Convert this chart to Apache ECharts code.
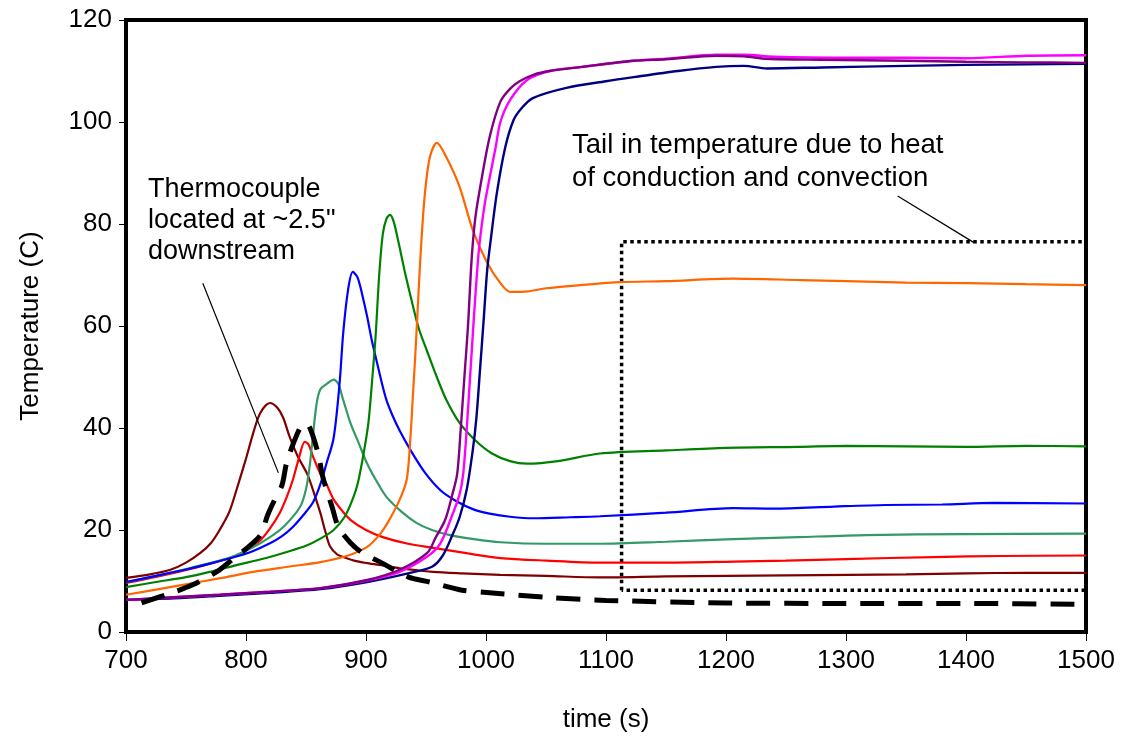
<!DOCTYPE html>
<html>
<head>
<meta charset="utf-8">
<script src="https://cdn.jsdelivr.net/npm/echarts@6/dist/echarts.min.js"></script>
<style>
html,body{margin:0;padding:0;background:#fff;}
#chart{width:1126px;height:744px;}
</style>
</head>
<body>
<div id="chart"></div>
<script>
// ---- data: [time (s), temperature (C)] ----
const maroon = [[700,10.6],[720,11.3],[737,12.2],[750,13.6],[762,15.5],[771,17.5],[778,20],[786,23.5],[792,27.8],[800,34],[806,39],[812,43],[820,44.9],[826,44],[831,42],[836,38.5],[843,34.5],[851,31],[857,27],[862,23.3],[866,19.8],[870,16.8],[876,15.2],[881,14.7],[890,14],[901,13.5],[915,13],[928,12.5],[956,11.8],[980,11.5],[1012,11.2],[1050,11],[1095,10.7],[1150,10.9],[1200,11],[1250,11.1],[1303,11.2],[1350,11.3],[1400,11.5],[1450,11.6],[1500,11.6]];
const red = [[700,9.6],[725,10.8],[751,12.2],[770,13.4],[789,14.7],[800,16],[812,18],[820,20.3],[828,23.3],[834,26.5],[839,29.8],[844,34],[849,37.3],[852,36.8],[856,34.3],[862,31],[867,29],[873,26],[880,23.8],[887,22],[900,20],[914,18.6],[935,17.3],[956,16.5],[985,15.4],[1012,14.5],[1050,14],[1095,13.6],[1150,13.6],[1206,13.8],[1250,14],[1300,14.3],[1373,14.7],[1430,14.9],[1500,15]];
const seaGreen = [[700,9.8],[725,11],[751,12.4],[770,13.5],[789,14.8],[805,16.5],[820,18.6],[832,20.8],[845,24.5],[850,28],[853,32.4],[856,39],[859,45],[862,47.6],[867,48.6],[873,49.5],[877,48.6],[881,45.5],[887,41],[894,37],[901,33],[909,29.5],[917,26.5],[930,23.5],[942,21.4],[955,20],[970,19],[990,18.2],[1012,17.6],[1050,17.3],[1095,17.3],[1150,17.7],[1206,18.2],[1260,18.6],[1317,19],[1400,19.2],[1500,19.3]];
const blue = [[700,9.8],[725,11],[751,12.3],[770,13.4],[789,14.6],[805,15.8],[820,17.4],[830,18.8],[839,20.6],[848,23],[856,25.5],[862,29],[867,33],[873,38],[878,48.8],[881,58.6],[885,67],[889,70.6],[893,69.5],[897,66],[901,61.8],[905,57],[909,53],[913,49],[917,45.5],[922,42.5],[928,39.5],[937,35.7],[949,31.3],[962,27.8],[975,25.7],[990,24],[1003,23.2],[1020,22.6],[1040,22.3],[1070,22.5],[1095,22.7],[1150,23.4],[1206,24.3],[1240,24.2],[1290,24.6],[1333,24.9],[1380,25],[1423,25.3],[1500,25.2]];
const green = [[700,8.8],[725,9.8],[751,10.8],[770,11.8],[792,13.1],[815,14.4],[834,15.7],[850,16.9],[862,18.3],[873,20],[882,22.5],[888,25.5],[893,29],[898,35],[902,41],[905,49],[908,58],[911,70],[914,78],[917,81],[920,81.8],[923,80.5],[927,76.5],[932,71],[938,65],[944,59.5],[951,55],[959,50],[967,45.5],[978,41],[991,37.6],[1005,35],[1020,33.5],[1034,33],[1060,33.5],[1095,35],[1150,35.6],[1200,36.1],[1260,36.3],[1300,36.5],[1350,36.4],[1400,36.3],[1450,36.5],[1500,36.4]];
const orange = [[700,7.3],[725,8.3],[751,9.4],[780,10.6],[806,11.8],[835,12.8],[862,13.7],[885,15],[901,16.7],[911,19],[918,21.4],[928,25.9],[934,30],[937,38],[939,46],[941,54],[943,63],[945,72],[948,83],[951,90],[954,93.8],[959,95.9],[967,93.1],[978,87.3],[989,78.8],[1001,72.4],[1012,68.4],[1020,66.7],[1035,66.8],[1050,67.4],[1078,68],[1112,68.6],[1150,68.8],[1206,69.3],[1262,69],[1300,68.8],[1350,68.5],[1401,68.4],[1450,68.2],[1500,68]];
const navy = [[700,6.3],[740,6.6],[778,7.1],[820,7.7],[862,8.4],[901,9.8],[935,11.5],[955,12.8],[964,15],[972,19],[978,22.5],[984,28],[989,35.7],[992,42],[995,51.4],[998,61],[1001,71],[1004,77],[1009,86],[1016,95],[1023,100.4],[1030,102.8],[1039,104.7],[1067,106.7],[1100,108],[1123,108.8],[1160,110],[1192,110.8],[1215,111],[1234,110.5],[1280,110.7],[1350,111],[1400,111.2],[1450,111.3],[1500,111.4]];
const magenta = [[700,6.3],[740,6.8],[778,7.3],[820,7.9],[862,8.6],[901,10.1],[928,11.8],[951,14.8],[962,17.4],[972,23],[978,27],[981,31],[984,40],[987,51],[990,62],[993,72],[995,77],[999,84],[1003,89],[1008,95],[1012,100],[1020,104.3],[1034,108.2],[1053,110],[1080,110.8],[1123,112],[1150,112.4],[1192,113.2],[1215,113.2],[1240,112.8],[1300,112.6],[1350,112.6],[1400,112.5],[1450,113],[1500,113.1]];
const purple = [[700,6.3],[740,6.8],[778,7.3],[820,7.9],[862,8.6],[901,10.2],[928,12.2],[951,15.5],[958,18.5],[966,22],[972,27],[976,31],[979,40],[982,50],[985,60],[988,73],[991,81],[995,87],[1003,97],[1012,104],[1020,106.5],[1028,108],[1040,109.3],[1053,110],[1080,110.8],[1123,112],[1150,112.3],[1192,113],[1215,112.9],[1234,112.4],[1280,112.2],[1350,112],[1400,111.8],[1450,111.7],[1500,111.6]];
const downstream = [[713,5.7],[737,7.6],[755,9.2],[778,12.2],[791,14.7],[800,16.3],[812,19],[818,22.9],[824,26],[830,28.8],[834,33.3],[843,39],[848,40.8],[852,40.6],[860,35.1],[864,30.4],[872,24.3],[877,20.6],[887,17.5],[897,15.5],[912,13.7],[935,10.8],[953,9.8],[980,8.2],[998,7.8],[1050,6.8],[1100,6.2],[1200,5.7],[1300,5.6],[1400,5.6],[1500,5.4]];
const tailBox = [[1113,8.2],[1113,76.5],[1500,76.5],[1500,8.2],[1113,8.2]];
const arrow1 = [[764,68.4],[827,31.2]];
const arrow2 = [[1343,85.5],[1407,76.3]];
const xTicks = [700,1500,100];
const yTicks = [0,120,20];
const note1 = 'Thermocouple\nlocated at ~2.5"\ndownstream';
const note2 = 'Tail in temperature due to heat\nof conduction and convection';

const FONT = '"Liberation Sans", Arial, sans-serif';
const chart = echarts.init(document.getElementById('chart'), null, {renderer:'canvas'});

function ln(name, data, color, width, extra) {
  return Object.assign({
    name: name, type: 'line', data: data, showSymbol: false, symbol: 'none',
    smooth: 0.3, animation: false, silent: true,
    lineStyle: {color: color, width: width}
  }, extra || {});
}

const arrowMark = (pts) => ({
  silent: true, animation: false,
  symbol: ['none', 'arrow'], symbolSize: [0, 11],
  label: {show: false},
  lineStyle: {color: '#000', width: 1.2, type: 'solid'},
  data: [[{coord: pts[0]}, {coord: pts[1]}]]
});

chart.setOption({
  animation: false,
  backgroundColor: '#fff',
  grid: {left: 126, right: 40, top: 20, bottom: 112, show: true, borderColor: '#000', borderWidth: 4},
  xAxis: {
    type: 'value', min: xTicks[0], max: xTicks[1], interval: xTicks[2],
    name: 'time (s)', nameLocation: 'middle', nameGap: 75,
    nameTextStyle: {fontFamily: FONT, fontSize: 26, color: '#000'},
    axisLine: {show: true, lineStyle: {color: '#000', width: 4}},
    axisTick: {show: true, inside: false, length: 9, lineStyle: {color: '#000', width: 1}},
    axisLabel: {fontFamily: FONT, fontSize: 26, color: '#000', margin: 16, formatter: v => String(v)},
    splitLine: {show: false}
  },
  yAxis: {
    type: 'value', min: yTicks[0], max: yTicks[1], interval: yTicks[2],
    name: 'Temperature (C)', nameLocation: 'middle', nameGap: 82,
    nameTextStyle: {fontFamily: FONT, fontSize: 26, color: '#000'},
    axisLine: {show: true, lineStyle: {color: '#000', width: 4}},
    axisTick: {show: true, inside: false, length: 7, lineStyle: {color: '#000', width: 1}},
    axisLabel: {fontFamily: FONT, fontSize: 26, color: '#000', margin: 14},
    splitLine: {show: false}
  },
  graphic: [
    {type: 'text', left: 148, top: 174, silent: true,
     style: {text: note1, font: '27px ' + FONT, fill: '#000', lineHeight: 31}},
    {type: 'text', left: 572, top: 129, silent: true,
     style: {text: note2, font: '27.5px ' + FONT, fill: '#000', lineHeight: 33}}
  ],
  series: [
    ln('box', tailBox, '#000', 3, {smooth: false, lineStyle: {color: '#000', width: 3.5, type: [3.5, 3.5]}}),
    ln('maroon', maroon, '#800000', 2.2),
    ln('red', red, '#FF0000', 2.2),
    ln('seagreen', seaGreen, '#339966', 2.2),
    ln('blue', blue, '#0000FF', 2.2),
    ln('green', green, '#008000', 2.2),
    ln('orange', orange, '#FF6600', 2.2),
    ln('navy', navy, '#000080', 2.4),
    ln('magenta', magenta, '#FF00FF', 2.4),
    ln('purple', purple, '#800080', 2.4),
    ln('downstream', downstream, '#000', 5, {lineStyle: {color: '#000', width: 5, type: [24, 14]},
       markLine: arrowMark(arrow1)}),
    ln('arrowTail', [], '#000', 1, {markLine: arrowMark(arrow2)})
  ]
});
</script>
</body>
</html>
